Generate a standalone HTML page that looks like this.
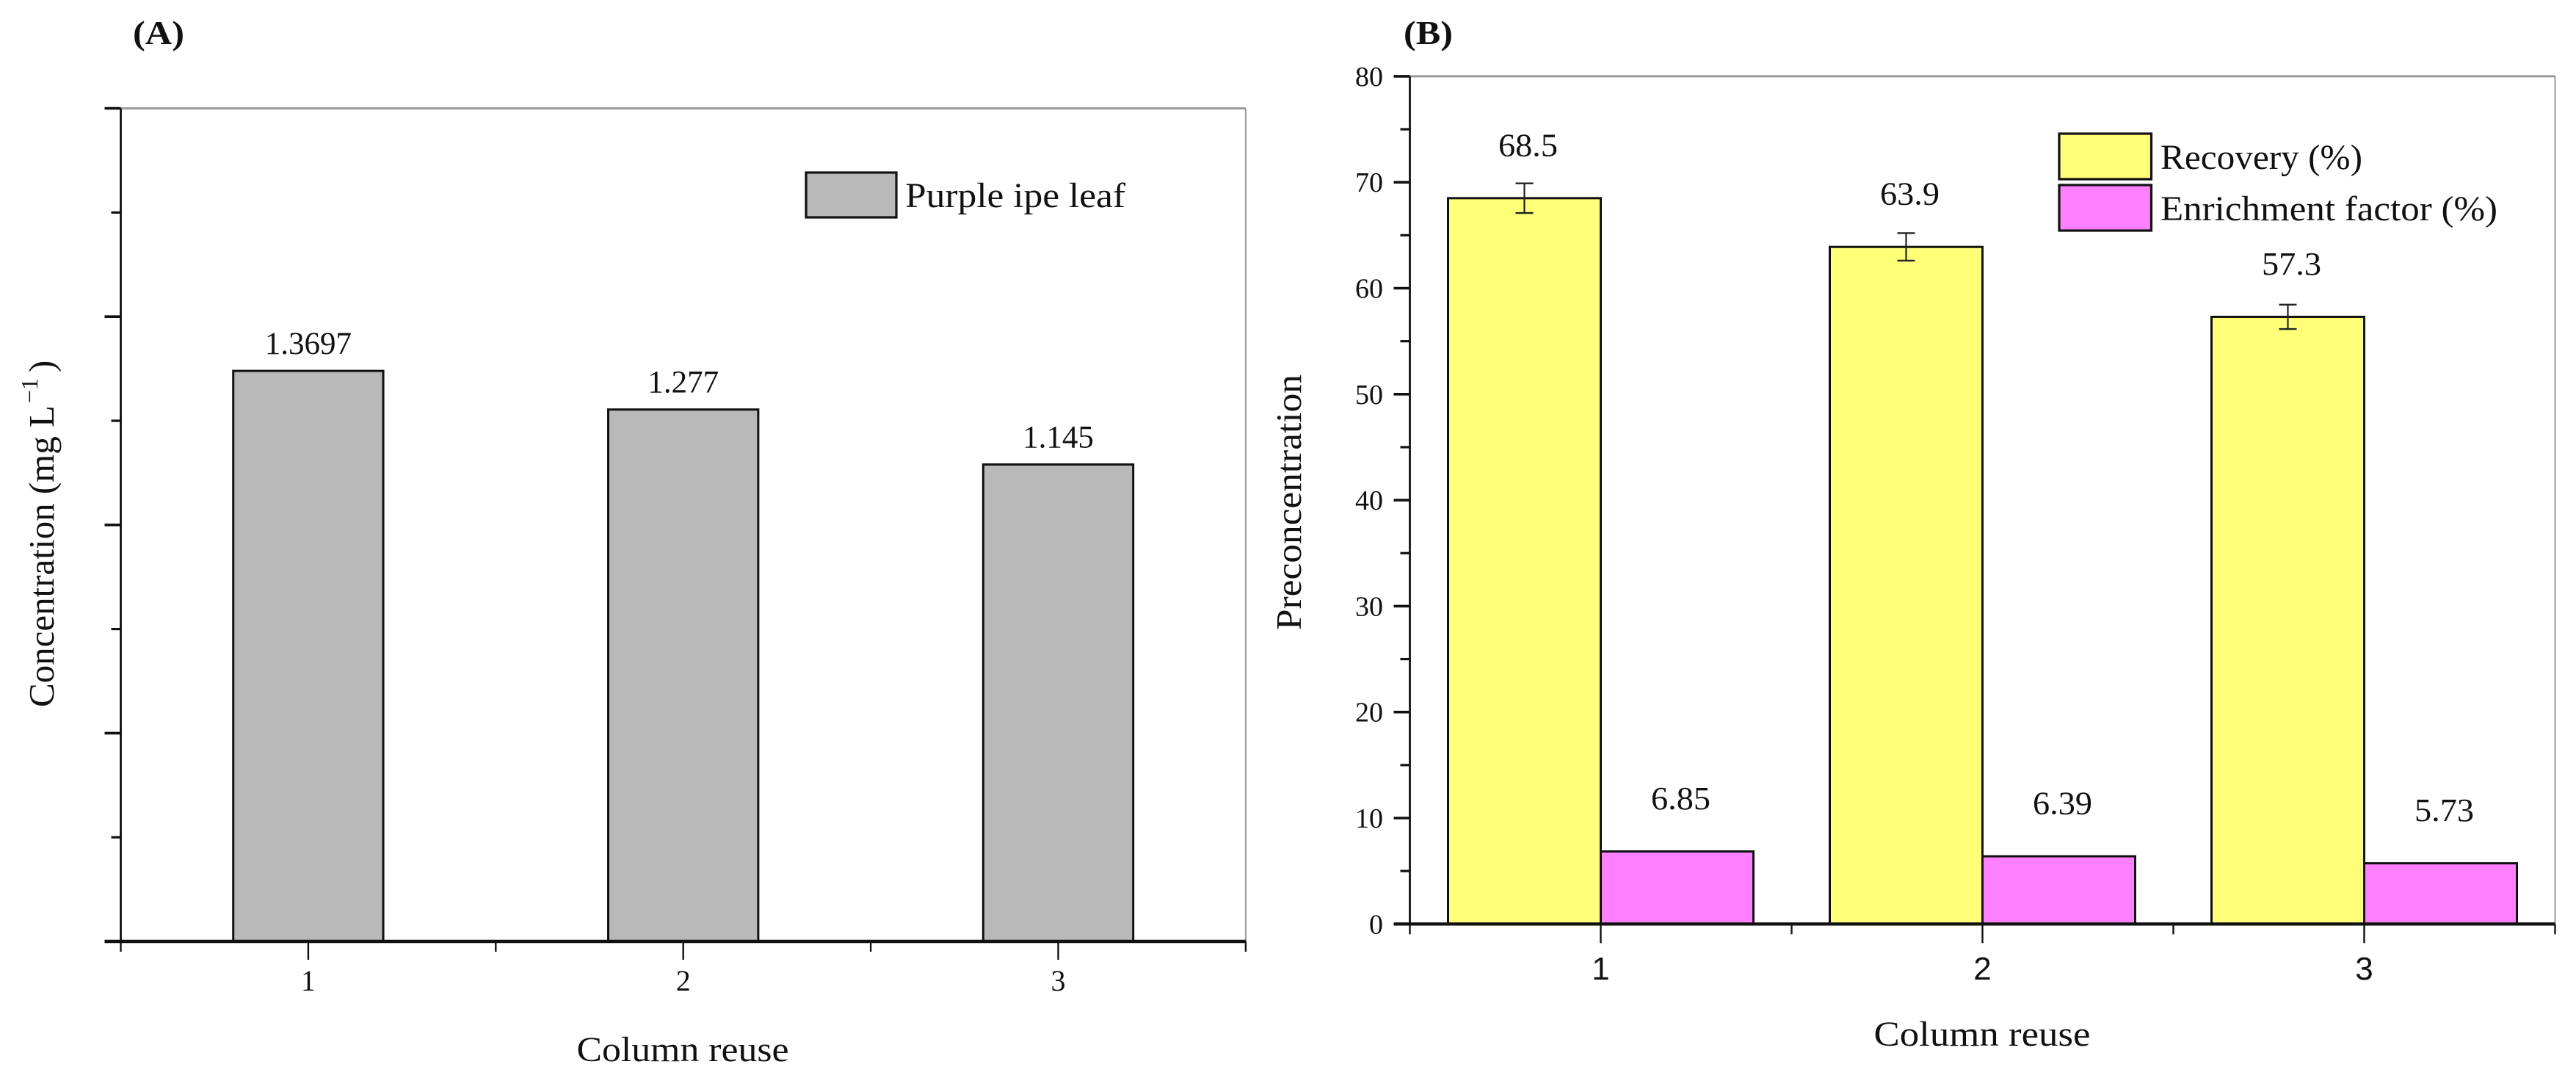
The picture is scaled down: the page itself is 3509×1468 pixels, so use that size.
<!DOCTYPE html>
<html>
<head>
<meta charset="utf-8">
<title>Column reuse charts</title>
<style>
html,body{margin:0;padding:0;background:#fff;width:3509px;height:1468px;overflow:hidden}
svg{display:block}
text{font-family:"Liberation Serif",serif;fill:#111}
</style>
</head>
<body>
<svg id="figure" width="3509" height="1468" viewBox="0 0 3509 1468" xmlns="http://www.w3.org/2000/svg"></svg>
<script>
const categories = ['1', '2', '3'];
const leafValues = [1.3697, 1.277, 1.145];
const leafLabels = ['1.3697', '1.277', '1.145'];
const recoveryValues = [68.5, 63.9, 57.3];
const recoveryErrors = [1.4, 1.3, 1.15];
const recoveryLabels = ['68.5', '63.9', '57.3'];
const enrichmentValues = [6.85, 6.39, 5.73];
const enrichmentLabels = ['6.85', '6.39', '5.73'];
const yTicksB = [0, 10, 20, 30, 40, 50, 60, 70, 80];
const yTicksA = [0, 0.5, 1, 1.5, 2];

const svg = document.getElementById('figure');
function mk(tag, attrs, parent, txt) {
  const el = document.createElementNS('http://www.w3.org/2000/svg', tag);
  for (const k in attrs) el.setAttribute(k, attrs[k]);
  if (txt !== undefined) el.textContent = txt;
  (parent || svg).appendChild(el);
  return el;
}
function nm(el, name) {
  
  
  return el;
}

/* Panel A axes */
const xA = c => 164.5 + (c - 0.5) * 510.8;
const yA = v => 1282 - v * 567.2;
/* Panel B axes */
const xB = c => 1920.5 + (c - 0.5) * 520;
const yB = v => 1258.3 - v * 14.43;

function frame(g, l, r, t, b) {
  nm(mk('line', {x1: l, x2: r, y1: t, y2: t, stroke: '#999', 'stroke-width': 3}, g), 'top-border');
  nm(mk('line', {x1: r, x2: r, y1: t, y2: b, stroke: '#999', 'stroke-width': 2}, g), 'right-border');
}
function axes(g, l, r, t, b) {
  nm(mk('line', {x1: l, x2: l, y1: t, y2: b, stroke: '#111', 'stroke-width': 2.8}, g), 'y-axis-line');
  nm(mk('line', {x1: l - 22, x2: r, y1: b, y2: b, stroke: '#111', 'stroke-width': 4.4}, g), 'x-axis-line');
}
function bar(g, x0, x1, yTop, yBase, fill, name) {
  nm(mk('rect', {x: x0, y: yTop, width: x1 - x0, height: yBase - yTop, fill: fill, stroke: '#111', 'stroke-width': 3}, g), name);
}

/* ---------- Panel A ---------- */
const gA = nm(mk('g', {}), 'panel-a');
nm(mk('text', {x: 181, y: 60, 'font-size': 46, 'font-weight': 'bold', textLength: 70, lengthAdjust: 'spacingAndGlyphs'}, gA, '(A)'), 'panel-a-label');
frame(gA, xA(0.5), xA(3.5), yA(2), yA(0));
leafValues.forEach((v, i) => {
  const c = i + 1;
  bar(gA, xA(c - 0.2), xA(c + 0.2), yA(v), yA(0), '#b9b9b9', 'leaf-bar-' + c);
  nm(mk('text', {x: xA(c), y: yA(v) - 23, 'font-size': 43, 'text-anchor': 'middle'}, gA, leafLabels[i]), 'leaf-value-label-' + c);
});
axes(gA, xA(0.5), xA(3.5), yA(2), yA(0));
yTicksA.forEach(v => {
  nm(mk('line', {x1: xA(0.5) - 22, x2: xA(0.5), y1: yA(v), y2: yA(v), stroke: '#111', 'stroke-width': 3.6}, gA), 'y-major-tick');
  if (v < 2) nm(mk('line', {x1: xA(0.5) - 13, x2: xA(0.5), y1: yA(v + 0.25), y2: yA(v + 0.25), stroke: '#111', 'stroke-width': 3.2}, gA), 'y-minor-tick');
});
categories.forEach((cat, i) => {
  const c = i + 1;
  nm(mk('line', {x1: xA(c), x2: xA(c), y1: yA(0), y2: yA(0) + 25, stroke: '#111', 'stroke-width': 2.4}, gA), 'x-major-tick');
  nm(mk('text', {x: xA(c), y: 1349, 'font-size': 40, 'text-anchor': 'middle'}, gA, cat), 'x-tick-label-' + c);
});
[0.5, 1.5, 2.5, 3.5].forEach(c => {
  nm(mk('line', {x1: xA(c), x2: xA(c), y1: yA(0), y2: yA(0) + 14, stroke: '#111', 'stroke-width': 2.4}, gA), 'x-minor-tick');
});
nm(mk('text', {x: 930, y: 1445, 'font-size': 48, 'text-anchor': 'middle', textLength: 289, lengthAdjust: 'spacingAndGlyphs'}, gA, 'Column reuse'), 'x-axis-title');
const yTitleA = nm(mk('text', {transform: 'translate(73,963) rotate(-90)', 'font-size': 49, x: 0, y: 0}, gA), 'y-axis-title');
mk('tspan', {}, yTitleA, 'Concentration (mg L');
mk('tspan', {dy: -22, 'font-size': 32, dx: 3}, yTitleA, '−1');
mk('tspan', {dy: 22, dx: 8}, yTitleA, ')');
nm(mk('rect', {x: 1098, y: 235, width: 123, height: 61, fill: '#b9b9b9', stroke: '#111', 'stroke-width': 3.2}, gA), 'legend-swatch-leaf');
nm(mk('text', {x: 1233, y: 282, 'font-size': 48, textLength: 300, lengthAdjust: 'spacingAndGlyphs'}, gA, 'Purple ipe leaf'), 'legend-label-leaf');

/* ---------- Panel B ---------- */
const gB = nm(mk('g', {}), 'panel-b');
nm(mk('text', {x: 1912, y: 60, 'font-size': 46, 'font-weight': 'bold', textLength: 67, lengthAdjust: 'spacingAndGlyphs'}, gB, '(B)'), 'panel-b-label');
frame(gB, xB(0.5), xB(3.5), yB(80), yB(0));
recoveryValues.forEach((v, i) => {
  const c = i + 1;
  bar(gB, xB(c - 0.4), xB(c), yB(v), yB(0), '#ffff78', 'recovery-bar-' + c);
  const cx = xB(c - 0.2);
  const e = recoveryErrors[i];
  nm(mk('line', {x1: cx, x2: cx, y1: yB(v + e), y2: yB(v - e), stroke: '#222', 'stroke-width': 2.2}, gB), 'recovery-error-bar-' + c);
  nm(mk('line', {x1: cx - 12, x2: cx + 12, y1: yB(v + e), y2: yB(v + e), stroke: '#222', 'stroke-width': 2.4}, gB), 'recovery-error-cap-top-' + c);
  nm(mk('line', {x1: cx - 12, x2: cx + 12, y1: yB(v - e), y2: yB(v - e), stroke: '#222', 'stroke-width': 2.4}, gB), 'recovery-error-cap-bottom-' + c);
  nm(mk('text', {x: cx + 5, y: yB(v) - 57.5, 'font-size': 44, 'text-anchor': 'middle', textLength: 81, lengthAdjust: 'spacingAndGlyphs'}, gB, recoveryLabels[i]), 'recovery-value-label-' + c);
});
enrichmentValues.forEach((v, i) => {
  const c = i + 1;
  bar(gB, xB(c), xB(c + 0.4), yB(v), yB(0), '#ff80ff', 'enrichment-bar-' + c);
  nm(mk('text', {x: xB(c + 0.2) + 5, y: yB(v) - 57.5, 'font-size': 44, 'text-anchor': 'middle', textLength: 81, lengthAdjust: 'spacingAndGlyphs'}, gB, enrichmentLabels[i]), 'enrichment-value-label-' + c);
});
axes(gB, xB(0.5), xB(3.5), yB(80), yB(0));
yTicksB.forEach(v => {
  nm(mk('line', {x1: xB(0.5) - 22, x2: xB(0.5), y1: yB(v), y2: yB(v), stroke: '#111', 'stroke-width': 3.6}, gB), 'y-major-tick');
  nm(mk('text', {x: 1884, y: yB(v) + 13, 'font-size': 38, 'text-anchor': 'end'}, gB, String(v)), 'y-tick-label-' + v);
  if (v < 80) nm(mk('line', {x1: xB(0.5) - 13, x2: xB(0.5), y1: yB(v + 5), y2: yB(v + 5), stroke: '#111', 'stroke-width': 3.2}, gB), 'y-minor-tick');
});
categories.forEach((cat, i) => {
  const c = i + 1;
  nm(mk('line', {x1: xB(c), x2: xB(c), y1: yB(0), y2: yB(0) + 26, stroke: '#111', 'stroke-width': 2.4}, gB), 'x-major-tick');
  nm(mk('text', {x: xB(c), y: 1334, 'font-size': 44, 'text-anchor': 'middle', style: 'font-family:"Liberation Sans",sans-serif'}, gB, cat), 'x-tick-label-' + c);
});
[0.5, 1.5, 2.5, 3.5].forEach(c => {
  nm(mk('line', {x1: xB(c), x2: xB(c), y1: yB(0), y2: yB(0) + 14, stroke: '#111', 'stroke-width': 2.4}, gB), 'x-minor-tick');
});
nm(mk('text', {x: 2700, y: 1424, 'font-size': 48, 'text-anchor': 'middle', textLength: 295, lengthAdjust: 'spacingAndGlyphs'}, gB, 'Column reuse'), 'x-axis-title');
nm(mk('text', {transform: 'translate(1772,684) rotate(-90)', 'font-size': 49, 'text-anchor': 'middle', textLength: 348, lengthAdjust: 'spacingAndGlyphs'}, gB, 'Preconcentration'), 'y-axis-title');
nm(mk('rect', {x: 2805, y: 182, width: 125.5, height: 62, fill: '#ffff78', stroke: '#111', 'stroke-width': 3.2}, gB), 'legend-swatch-recovery');
nm(mk('text', {x: 2943, y: 230, 'font-size': 48, textLength: 275, lengthAdjust: 'spacingAndGlyphs'}, gB, 'Recovery (%)'), 'legend-label-recovery');
nm(mk('rect', {x: 2805, y: 252, width: 125.5, height: 62, fill: '#ff80ff', stroke: '#111', 'stroke-width': 3.2}, gB), 'legend-swatch-enrichment');
nm(mk('text', {x: 2943, y: 300, 'font-size': 48, textLength: 459, lengthAdjust: 'spacingAndGlyphs'}, gB, 'Enrichment factor (%)'), 'legend-label-enrichment');
</script>
</body>
</html>
